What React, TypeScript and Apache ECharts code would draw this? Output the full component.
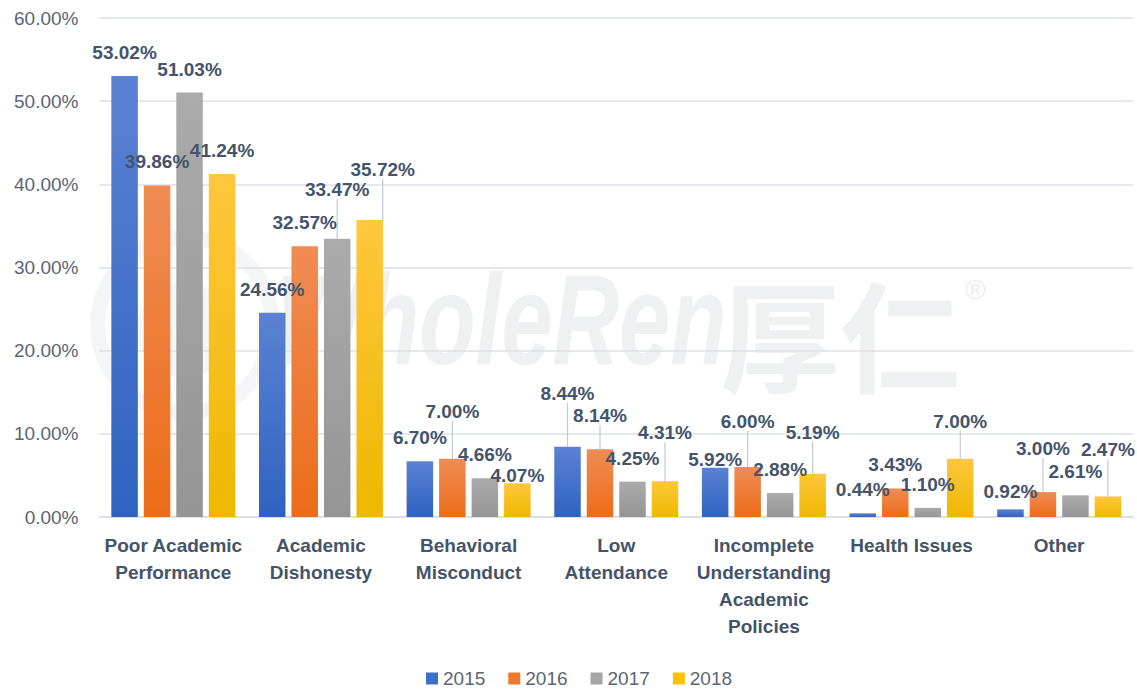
import React, { useEffect, useRef } from "react";
import * as echarts from "echarts";

const categories = [
  "Poor Academic\nPerformance",
  "Academic\nDishonesty",
  "Behavioral\nMisconduct",
  "Low\nAttendance",
  "Incomplete\nUnderstanding\nAcademic\nPolicies",
  "Health Issues",
  "Other",
];
const years = ["2015", "2016", "2017", "2018"];
const v2015 = [53.02, 24.56, 6.7, 8.44, 5.92, 0.44, 0.92];
const v2016 = [39.86, 32.57, 7.0, 8.14, 6.0, 3.43, 3.0];
const v2017 = [51.03, 33.47, 4.66, 4.25, 2.88, 1.1, 2.61];
const v2018 = [41.24, 35.72, 4.07, 4.31, 5.19, 7.0, 2.47];
const yTicks = { min: 0, max: 60, interval: 10 };

// label placement (offsets in px from default "top" position) and leader-line flags
const labelDy = [
  [0, 0, 0, -30, 15, 0, 6],
  [0, 0, -24, -10, -22, 0, -20],
  [0, -26, 0, 0, 0, 0, 0],
  [0, -27, 16, -25, -18, -14, -23],
];
const labelDx = [
  [0, 0, 0, 0, 0, 0, 0],
  [0, 0, 0, 0, 0, 0, 0],
  [0, 0, 0, 0, 0, 0, 0],
  [0, 13, 0, 0, 0, 0, 0],
];
const leaders = [
  [0, 0, 0, 1, 0, 0, 0],
  [0, 0, 1, 1, 1, 0, 1],
  [0, 1, 0, 0, 0, 0, 0],
  [0, 1, 0, 1, 1, 1, 1],
];

const gradients = [
  ["#5b82d3", "#2f62c0"],
  ["#f08c55", "#ec6c18"],
  ["#ababab", "#959595"],
  ["#ffc73c", "#edb800"],
];
const legendColors = ["#3f6fc9", "#ee7a2e", "#a5a5a5", "#ffc000"];

export default function App() {
  const ref = useRef<HTMLDivElement>(null);
  useEffect(() => {
    document.body.style.margin = "0";
    const chart = echarts.init(ref.current!, null, { renderer: "svg" });
    const seriesValues = [v2015, v2016, v2017, v2018];
    const textColor = "#5a6577";
    const labelColor = "#44546a";
    const font = "Liberation Sans";
    const option = {
      animation: false,
      backgroundColor: "#ffffff",
      textStyle: { fontFamily: font },
      grid: { left: 99.5, right: 4, top: 18, bottom: 172, containLabel: false },
      legend: {
        left: 426,
        top: 669,
        padding: 0,
        icon: "rect",
        itemWidth: 12,
        itemHeight: 12,
        itemGap: 23,
        textStyle: { fontSize: 19, color: textColor, fontFamily: font },
        data: years.map((y, i) => ({ name: y, itemStyle: { color: legendColors[i] } })),
      },
      graphic: [
        {
          type: "ring",
          z: -10,
          silent: true,
          shape: { cx: 185, cy: 325, r: 95, r0: 80 },
          style: { fill: "#f4f5f6" },
        },
        {
          type: "circle",
          z: -10,
          silent: true,
          shape: { cx: 185, cy: 330, r: 48 },
          style: { fill: "#f5f6f7" },
        },
        {
          type: "text",
          z: -10,
          silent: true,
          x: 276,
          y: 384,
          scaleX: 0.72,
          style: {
            text: "WholeRen",
            font: "italic bold 128px Liberation Sans",
            fill: "#eff0f2",
            textVerticalAlign: "bottom",
          },
        },
        {
          type: "text",
          z: -10,
          silent: true,
          x: 720,
          y: 392,
          style: {
            text: "厚仁",
            font: "bold 120px 'Noto Sans CJK SC'",
            fill: "#eff0f2",
            textVerticalAlign: "bottom",
          },
        },
        {
          type: "text",
          z: -10,
          silent: true,
          x: 965,
          y: 275,
          style: { text: "®", font: "28px Liberation Sans", fill: "#eceef0" },
        },
      ],
      xAxis: {
        type: "category",
        data: categories,
        axisTick: { show: false },
        axisLine: { lineStyle: { color: "#d9dde3", width: 1.5 } },
        axisLabel: {
          interval: 0,
          margin: 15,
          fontSize: 19,
          lineHeight: 27,
          fontWeight: "bold",
          color: labelColor,
          fontFamily: font,
        },
      },
      yAxis: {
        type: "value",
        min: yTicks.min,
        max: yTicks.max,
        interval: yTicks.interval,
        axisLine: { show: false },
        axisTick: { show: false },
        splitLine: { lineStyle: { color: "#dde1e7", width: 1.5 } },
        axisLabel: {
          margin: 21,
          fontSize: 19,
          color: textColor,
          fontFamily: font,
          formatter: (v: number) => v.toFixed(2) + "%",
        },
      },
      series: seriesValues.map((vals, s) => ({
        name: years[s],
        type: "bar",
        barWidth: 26.5,
        barGap: "22.6%",
        itemStyle: {
          color: new echarts.graphic.LinearGradient(0, 0, 0, 1, [
            { offset: 0, color: gradients[s][0] },
            { offset: 1, color: gradients[s][1] },
          ]),
        },
        label: {
          show: true,
          position: "top",
          distance: 14,
          fontSize: 19,
          fontWeight: "bold",
          color: labelColor,
          fontFamily: font,
          formatter: (p: any) => Number(p.value).toFixed(2) + "%",
        },
        labelLine: { show: true, lineStyle: { color: "#c3c9d1", width: 1.2 } },
        labelLayout: (p: any) => ({
          dx: labelDx[s][p.dataIndex],
          dy: labelDy[s][p.dataIndex],
        }),
        data: vals.map((v, i) => ({
          value: v,
          labelLine: { show: leaders[s][i] === 1 },
        })),
      })),
    };
    chart.setOption(option as any);
    return () => chart.dispose();
  }, []);
  return <div ref={ref} style={{ width: 1137, height: 689 }} />;
}
